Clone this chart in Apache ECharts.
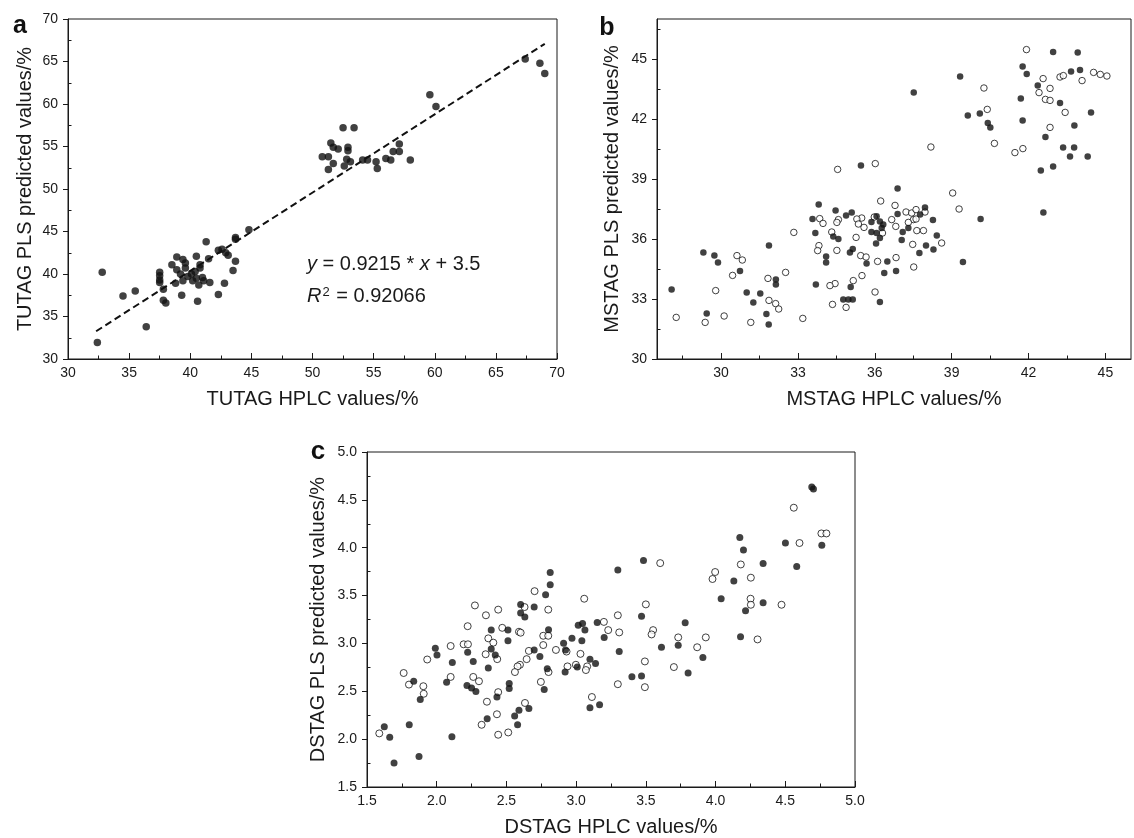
<!DOCTYPE html>
<html><head><meta charset="utf-8">
<script src="https://cdn.jsdelivr.net/npm/echarts@6/dist/echarts.min.js"></script>
<style>html,body{margin:0;padding:0;background:#fff}#c{width:1134px;height:838px}</style>
</head><body><div id="c"></div><script>
const FONT = '"Liberation Sans", Arial, Helvetica, sans-serif';
const INK = '#1a1a1a';

// ---------- Panel a : TUTAG ----------
const aTicks = [30, 35, 40, 45, 50, 55, 60, 65, 70];
const aMinor = [32.5, 37.5, 42.5, 47.5, 52.5, 57.5, 62.5, 67.5];
const aPoints = [
  [67.4,65.3],[68.6,64.8],[69.0,63.6],[59.6,61.1],[60.1,59.7],[52.5,57.2],[53.4,57.2],[51.5,55.4],
  [51.7,54.9],[52.1,54.7],[52.9,54.9],[52.9,54.5],[50.8,53.8],[51.3,53.8],[51.7,53.0],[51.3,52.3],
  [52.6,52.7],[52.8,53.5],[53.1,53.2],[54.1,53.4],[54.5,53.4],[55.2,53.2],[55.3,52.4],[56.0,53.6],
  [56.4,53.4],[56.6,54.4],[57.1,54.4],[57.1,55.3],[58.0,53.4],
  [32.8,40.2],[32.4,31.95],[34.5,37.4],[35.5,38.0],[36.4,33.8],[37.5,40.2],[37.5,39.8],[37.5,39.3],
  [37.5,39.0],[37.8,38.2],[37.8,36.9],[38.0,36.6],[38.9,42.0],[39.4,41.7],[38.5,41.1],[38.8,38.9],
  [39.3,37.5],[40.5,42.1],[40.8,41.1],[40.8,40.7],[41.3,43.8],[41.5,41.8],[40.6,36.8],[40.7,38.7],
  [38.9,40.5],[39.2,40.0],[39.6,40.7],[39.8,39.7],[40.1,40.0],[40.2,39.2],[40.5,39.5],[41.0,39.6],
  [41.1,39.2],[39.4,39.2],[40.4,40.3],[39.6,41.3],[41.6,39.0],[42.3,37.6],[42.8,38.9],[42.3,42.8],
  [42.6,42.9],[42.9,42.5],[43.1,42.2],[43.5,40.4],[43.7,41.5],[43.7,44.3],[43.7,44.1],[44.8,45.2]
];
const fitSlope = 0.9215, fitIntercept = 3.5, fitRange = [32.3, 69.0];

// ---------- Panel b : MSTAG ----------
const bXTicks = [30, 33, 36, 39, 42, 45];
const bXMinor = [28.5, 31.5, 34.5, 37.5, 40.5, 43.5];
const bYTicks = [30, 33, 36, 39, 42, 45];
const bYMinor = [31.5, 34.5, 37.5, 40.5, 43.5, 46.5];
const bFilled = [
  [37.52,43.33],[39.33,44.13],[41.77,44.63],[41.93,44.25],[42.96,45.35],[43.92,45.33],[43.66,44.37],
  [44.01,44.45],[42.36,43.67],[41.70,43.03],[43.23,42.80],[44.44,42.33],[39.63,42.18],[40.10,42.27],
  [40.41,41.80],[40.51,41.58],[41.77,41.93],[43.79,41.67],[42.66,41.10],[43.35,40.57],[43.78,40.57],
  [43.62,40.13],[44.31,40.13],[42.96,39.62],[42.48,39.42],[35.46,39.67],[36.89,38.52],
  [40.13,37.0],[39.44,34.85],[42.58,37.33],[34.47,37.42],[34.88,37.18],[35.10,37.33],[37.96,37.58],
  [37.77,37.22],[36.89,37.25],[38.27,36.95],[35.87,36.85],[36.07,37.14],[36.2,36.88],[36.33,36.72],
  [36.27,36.55],[35.87,36.35],[36.07,36.30],[36.2,36.05],[36.05,35.77],[37.09,36.35],[37.31,36.55],
  [37.05,35.95],[38.42,36.18],[38.00,35.68],[37.74,35.30],[38.29,35.47],[34.38,36.13],[34.58,36.0],
  [35.03,35.33],[35.14,35.5],[35.68,34.78],[36.49,34.88],[36.37,34.3],[36.83,34.4],[35.06,33.6],
  [34.77,32.97],[34.97,32.97],[35.14,32.97],[36.2,32.85],
  [28.07,33.47],[29.31,35.32],[29.74,35.18],[29.88,34.83],[30.74,34.4],[29.44,32.28],[31.0,33.33],
  [31.26,32.82],[31.53,33.28],[31.77,32.25],[31.86,31.73],[31.87,35.67],[32.14,33.97],[32.14,33.72],
  [33.57,37.0],[33.68,36.3],[33.81,37.72],[34.1,35.13],[34.1,34.83],[33.7,33.72]
];
const bOpen = [
  [41.92,45.47],[42.57,44.02],[42.84,43.53],[42.41,43.32],[42.66,42.98],[42.84,42.93],[43.23,44.10],
  [43.36,44.17],[44.09,43.92],[44.54,44.33],[44.80,44.23],[45.06,44.15],[43.43,42.33],[42.84,41.58],
  [40.26,43.55],[40.39,42.48],[40.67,40.78],[41.47,40.32],[41.78,40.52],[38.19,40.60],[36.02,39.77],
  [34.55,39.48],[39.04,38.30],[36.23,37.9],
  [39.29,37.5],[36.79,37.68],[37.22,37.35],[37.44,37.3],[37.61,37.47],[37.96,37.35],[37.51,36.97],
  [37.61,37.0],[37.31,36.83],[36.66,36.97],[35.98,37.1],[35.49,37.05],[35.30,37.0],[35.36,36.75],
  [35.58,36.58],[34.58,36.97],[34.52,36.83],[36.82,36.63],[36.3,36.3],[37.64,36.42],[37.9,36.42],
  [34.32,36.35],[35.27,36.08],[37.48,35.73],[38.61,35.8],[34.52,35.43],[35.45,35.17],[35.66,35.1],
  [36.11,34.88],[36.83,35.07],[37.52,34.6],[35.5,34.17],[35.16,33.92],[34.45,33.77],[34.25,33.67],
  [36.01,33.35],[34.35,32.73],[34.88,32.58],
  [28.25,32.08],[29.38,31.83],[29.79,33.42],[30.12,32.15],[30.45,34.18],[30.62,35.17],[30.83,34.95],
  [31.16,31.83],[31.83,34.03],[31.87,32.93],[32.13,32.77],[32.25,32.5],[32.52,34.33],[32.84,36.33],
  [33.19,32.03],[33.85,37.02],[33.98,36.78],[33.82,35.67],[33.77,35.42]
];

// ---------- Panel c : DSTAG ----------
const cTicks = [1.5, 2.0, 2.5, 3.0, 3.5, 4.0, 4.5, 5.0];
const cMinor = [1.75, 2.25, 2.75, 3.25, 3.75, 4.25, 4.75];
const cFilled = [
  [2.814,3.742],[2.814,3.614],[2.781,3.508],[2.602,3.408],[2.602,3.318],[2.632,3.277],[2.699,3.380],
  [1.624,2.129],[1.663,2.019],[1.694,1.750],[1.803,2.150],[1.835,2.605],[1.882,2.415],[1.873,1.819],
  [1.990,2.950],[2.002,2.880],[2.071,2.595],[2.112,2.801],[2.109,2.026],[2.217,2.560],[2.250,2.534],
  [2.281,2.497],[2.222,2.908],[2.262,2.812],[2.370,2.743],[2.391,3.139],[2.391,2.942],[2.420,2.880],
  [2.432,2.440],[2.362,2.212],[2.511,3.139],[2.511,3.029],[2.520,2.581],[2.520,2.528],[2.559,2.243],
  [2.590,2.301],[2.661,2.319],[2.580,2.150],[2.699,2.932],[2.740,2.864],[2.802,3.143],[2.793,2.736],
  [2.771,2.518],[2.910,3.001],[2.924,2.932],[2.921,2.701],
  [4.690,4.635],[4.702,4.614],[4.174,4.108],[4.200,3.976],[4.501,4.049],[4.762,4.025],[4.341,3.836],
  [4.582,3.804],[4.131,3.653],[4.040,3.467],[4.341,3.425],[4.215,3.342],[3.483,3.867],[3.299,3.766],
  [3.469,3.283],[3.782,3.215],[3.151,3.218],[3.015,3.191],[3.046,3.208],
  [3.063,3.139],[3.201,3.063],[2.970,3.053],[3.041,3.029],[3.309,2.915],[3.099,2.836],[3.139,2.791],
  [3.008,2.753],[3.612,2.960],[3.732,2.980],[3.909,2.853],[3.803,2.691],[3.400,2.653],[3.469,2.660],
  [4.179,3.070],[3.099,2.329],[3.168,2.360]
];
const cOpen = [
  [2.702,3.546],[2.274,3.397],[2.353,3.294],[2.441,3.353],[2.800,3.353],[2.630,3.380],[2.222,3.180],
  [1.588,2.060],[1.763,2.691],[1.801,2.570],[1.904,2.553],[1.907,2.474],[1.932,2.832],[2.100,2.973],
  [2.100,2.650],[2.193,2.991],[2.224,2.991],[2.262,2.650],[2.303,2.605],[2.351,2.887],[2.370,3.053],
  [2.406,3.008],[2.434,2.836],[2.441,2.491],[2.360,2.391],[2.432,2.260],[2.322,2.150],[2.441,2.046],
  [2.513,2.070],[2.470,3.163],[2.590,3.122],[2.602,3.112],[2.661,2.922],[2.645,2.836],[2.597,2.777],
  [2.580,2.760],[2.561,2.701],[2.633,2.378],[2.747,2.598],[2.764,2.983],[2.764,3.080],[2.800,3.080],
  [2.802,2.701],[2.855,2.932],[2.938,2.760],[2.931,2.915],
  [4.561,4.418],[4.759,4.149],[4.795,4.149],[4.602,4.049],[4.181,3.825],[3.997,3.746],[3.978,3.673],
  [4.253,3.687],[4.251,3.467],[4.253,3.404],[4.473,3.404],[3.603,3.839],[3.058,3.467],[3.500,3.408],
  [3.299,3.294],[3.199,3.225],
  [3.230,3.139],[3.309,3.115],[3.552,3.139],[3.541,3.094],[3.732,3.063],[3.930,3.063],[3.868,2.960],
  [4.301,3.042],[3.031,2.891],[2.998,2.777],[3.079,2.760],[3.070,2.722],[3.493,2.812],[3.701,2.753],
  [3.299,2.574],[3.493,2.543],[3.113,2.440]
];

function axisPair(dim, gridIndex, min, max, major, minor, name, nameGap, fmt) {
  const isX = dim === 'x';
  const pos = isX ? 'bottom' : 'left';
  const main = {
    type: 'value', gridIndex, min, max, position: pos, offset: 0,
    name, nameLocation: 'middle', nameGap,
    nameTextStyle: { fontSize: 20, color: INK, fontFamily: FONT },
    axisLine: { show: true, onZero: false, lineStyle: { color: INK, width: 1 } },
    axisTick: { show: true, inside: isX, length: isX ? 6 : 5, customValues: major, lineStyle: { color: INK, width: 1 } },
    axisLabel: { show: true, customValues: major, margin: isX ? 7 : 10, fontSize: 14, color: INK, fontFamily: FONT, formatter: fmt },
    splitLine: { show: false }, minorTick: { show: false }
  };
  const minorAxis = {
    type: 'value', gridIndex, min, max, position: pos, offset: 0,
    axisLine: { show: false, onZero: false },
    axisTick: { show: true, inside: true, length: 3.5, customValues: minor, lineStyle: { color: INK, width: 1 } },
    axisLabel: { show: false }, splitLine: { show: false }
  };
  return [main, minorAxis];
}
const intFmt = v => String(Math.round(v));
const decFmt = v => v.toFixed(1);

const xAxes = [
  ...axisPair('x', 0, 30, 70, aTicks, aMinor, 'TUTAG HPLC values/%', 30, intFmt),
  ...axisPair('x', 1, 27.5, 46, bXTicks, bXMinor, 'MSTAG HPLC values/%', 30, intFmt),
  ...axisPair('x', 2, 1.5, 5.0, cTicks, cMinor, 'DSTAG HPLC values/%', 30, decFmt)
];
const yAxes = [
  ...axisPair('y', 0, 30, 70, aTicks, aMinor, 'TUTAG PLS predicted values/%', 33, intFmt),
  ...axisPair('y', 1, 30, 47, bYTicks, bYMinor, 'MSTAG PLS predicted values/%', 35, intFmt),
  ...axisPair('y', 2, 1.5, 5.0, cTicks, cMinor, 'DSTAG PLS predicted values/%', 39, decFmt)
];

const filledStyle = { color: '#111' };
const openStyle = { color: '#fff', borderColor: '#111', borderWidth: 1 };

const option = {
  animation: false,
  backgroundColor: '#fff',
  grid: [
    { left: 68, top: 19, width: 489, height: 340, show: true, borderColor: INK, borderWidth: 1 },
    { left: 657, top: 19, width: 474, height: 340, show: true, borderColor: INK, borderWidth: 1 },
    { left: 367, top: 452, width: 488, height: 338, show: true, borderColor: INK, borderWidth: 1 }
  ],
  xAxis: xAxes,
  yAxis: yAxes,
  series: [
    { type: 'line', xAxisIndex: 0, yAxisIndex: 0, symbol: 'none', silent: true,
      data: fitRange.map(x => [x, fitSlope * x + fitIntercept]),
      lineStyle: { color: '#111', width: 2, type: [7, 4] }, z: 1 },
    { type: 'scatter', xAxisIndex: 0, yAxisIndex: 0, data: aPoints, symbolSize: 7.5, itemStyle: filledStyle, z: 3 },
    { type: 'scatter', xAxisIndex: 2, yAxisIndex: 2, data: bOpen, symbolSize: 6.5, itemStyle: openStyle, z: 2 },
    { type: 'scatter', xAxisIndex: 2, yAxisIndex: 2, data: bFilled, symbolSize: 6.5, itemStyle: filledStyle, z: 3 },
    { type: 'scatter', xAxisIndex: 4, yAxisIndex: 4, data: cOpen, symbolSize: 7, itemStyle: openStyle, z: 2 },
    { type: 'scatter', xAxisIndex: 4, yAxisIndex: 4, data: cFilled, symbolSize: 7, itemStyle: filledStyle, z: 3 }
  ],
  graphic: [
    { type: 'text', left: 307, top: 254, style: {
        text: '{i|y} = 0.9215 * {i|x} + 3.5', fill: INK, font: '20px ' + FONT,
        rich: { i: { fontStyle: 'italic', fontSize: 20, fontFamily: FONT, fill: INK } } } },
    { type: 'text', left: 307, top: 286, style: {
        text: '{i|R}{s|2} = 0.92066', fill: INK, font: '20px ' + FONT,
        rich: { i: { fontStyle: 'italic', fontSize: 20, fontFamily: FONT, fill: INK },
                s: { fontSize: 13, fontFamily: FONT, fill: INK, verticalAlign: 'top', padding: [0, 1, 0, 1] } } } },
    { type: 'text', x: 20, y: 26, style: { text: 'a', font: 'bold 25px ' + FONT, fill: '#111', align: 'center', verticalAlign: 'middle' } },
    { type: 'text', x: 607, y: 28, style: { text: 'b', font: 'bold 25px ' + FONT, fill: '#111', align: 'center', verticalAlign: 'middle' } },
    { type: 'text', x: 318, y: 452, style: { text: 'c', font: 'bold 26px ' + FONT, fill: '#111', align: 'center', verticalAlign: 'middle' } }
  ]
};
const chart = echarts.init(document.getElementById('c'), null, { renderer: 'canvas' });
chart.setOption(option);
</script></body></html>
